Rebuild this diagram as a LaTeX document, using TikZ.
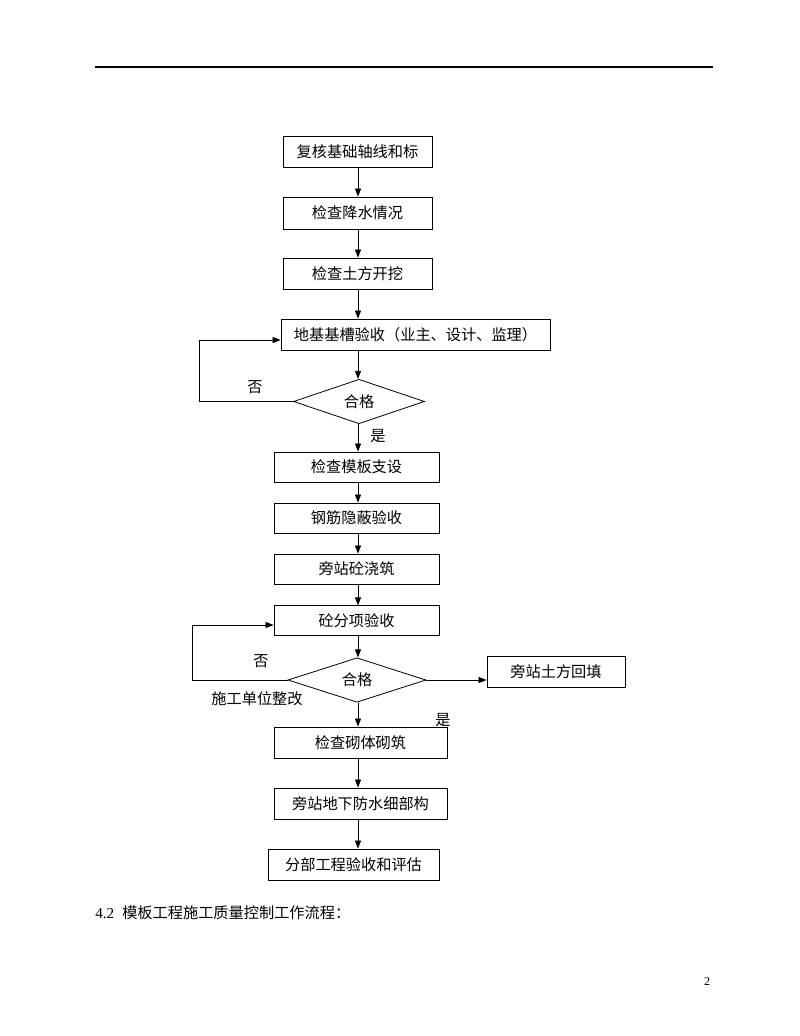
\documentclass[tikz,border=0pt]{standalone}
\usepackage{fontspec}
\setmainfont{Liberation Serif}
\newfontfamily\cjk{Noto Sans CJK SC}
\usetikzlibrary{arrows.meta,shapes.geometric}
\begin{document}
\begin{tikzpicture}[x=0.75pt,y=-0.75pt,
  every node/.style={font=\cjk\fontsize{11.4}{13}\selectfont},
  box/.style={draw,line width=0.65pt,rectangle,inner sep=0pt,minimum height=23.25pt},
  dia/.style={draw,line width=0.6pt,diamond,inner sep=0pt},
  lbl/.style={inner sep=0pt},
  arr/.style={line width=0.6pt,-{Triangle[length=6pt,width=4.5pt]}}]
\useasboundingbox (0,0) rectangle (800,1036);
\fill[white] (0,0) rectangle (800,1036);
% header rule
\coordinate (hl) at (95,67);
\coordinate (hr) at (713,67);
\draw[line width=0.9pt] (hl) -- (hr);
\coordinate (col) at (358,0);
\node[box,minimum width=111.75pt] (b1) at (357.5,151.5) {复核基础轴线和标};
\node[box,minimum width=111.75pt,minimum height=24pt] (b2) at (357.5,213) {检查降水情况};
\node[box,minimum width=111.75pt] (b3) at (357.5,273.5) {检查土方开挖};
\node[box,minimum width=201.75pt] (b4) at (415.5,334.5) {地基基槽验收（业主、设计、监理）};
\node[dia,minimum width=98.25pt,minimum height=30.75pt] (d1) at (359,401.5) {合格};
\node[box,minimum width=123.75pt,minimum height=22.5pt] (b5) at (356.5,467) {检查模板支设};
\node[box,minimum width=123.75pt,minimum height=22.5pt] (b6) at (356.5,518) {钢筋隐蔽验收};
\node[box,minimum width=123.75pt,minimum height=22.5pt] (b7) at (356.5,569) {旁站砼浇筑};
\node[box,minimum width=123.75pt,minimum height=22pt] (b8) at (356.5,620.5) {砼分项验收};
\node[dia,minimum width=103.5pt,minimum height=31.5pt] (d2) at (357,680) {合格};
\node[box,minimum width=103.5pt] (b12) at (556,671.5) {旁站土方回填};
\node[box,minimum width=129.75pt] (b9) at (360.5,742.5) {检查砌体砌筑};
\node[box,minimum width=129.75pt] (b10) at (360.5,803.5) {旁站地下防水细部构};
\node[box,minimum width=128.25pt] (b11) at (353.5,864.5) {分部工程验收和评估};
% main arrows
\draw[arr] (b1.south -| col) -- (b2.north -| col);
\draw[arr] (b2.south -| col) -- (b3.north -| col);
\draw[arr] (b3.south -| col) -- (b4.north -| col);
\draw[arr] (b4.south -| col) -- (d1.north -| col);
\draw[arr] (d1.south -| col) -- (b5.north -| col);
\draw[arr] (b5.south -| col) -- (b6.north -| col);
\draw[arr] (b6.south -| col) -- (b7.north -| col);
\draw[arr] (b7.south -| col) -- (b8.north -| col);
\draw[arr] (b8.south -| col) -- (d2.north -| col);
\draw[arr] (d2.south -| col) -- (b9.north -| col);
\draw[arr] (b9.south -| col) -- (b10.north -| col);
\draw[arr] (b10.south -| col) -- (b11.north -| col);
% loops
\coordinate (l1) at (199,340);
\draw[arr] (d1.west) -| (l1) -- (l1 -| b4.west);
\coordinate (l2) at (192,625);
\draw[arr] (d2.west) -| (l2) -- (l2 -| b8.west);
% side arrow
\draw[arr] (d2.east) -- (d2.east -| b12.west);
% labels
\node[lbl] (n1) at (255,387) {否};
\node[lbl] (y1) at (378,436) {是};
\node[lbl] (n2) at (261,661) {否};
\node[lbl] (fix) at (257,699) {施工单位整改};
\node[lbl] (y2) at (443,720) {是};
\node[lbl,anchor=west] (sec) at (95,913) {{\rmfamily 4.2}\hspace{6pt}模板工程施工质量控制工作流程：};
\node[lbl,font=\rmfamily\fontsize{9}{10}\selectfont] (pg) at (707,982) {2};
\end{tikzpicture}
\end{document}
